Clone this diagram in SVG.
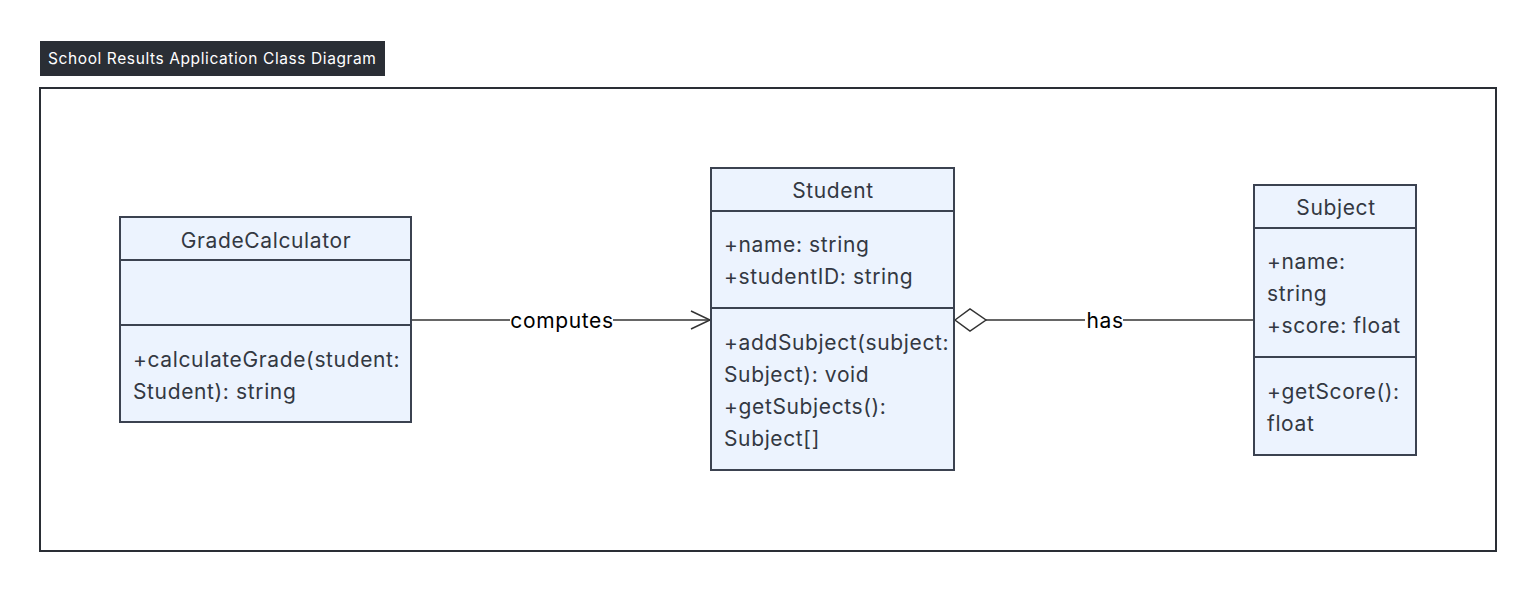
<svg xmlns="http://www.w3.org/2000/svg" width="1536" height="591" viewBox="0 0 1536 591">
<style>
.box{fill:#ECF3FE;stroke:#3B4250;stroke-width:2}
.div{stroke:#3B4250;stroke-width:2}
.t{font-family:Inter,"Liberation Sans",sans-serif;font-size:21px;fill:#333842;letter-spacing:0.03em}
.c{text-anchor:middle}
.edge{stroke:#333;stroke-width:1.5;fill:none}
.lbl{font-family:Inter,"Liberation Sans",sans-serif;font-size:21px;fill:#000;text-anchor:middle;letter-spacing:0.03em}
</style>
<rect width="1536" height="591" fill="#fff"/>
<g id="title">
<rect x="40" y="41" width="345" height="35" fill="#2A2E35"/>
<text x="48" y="64" font-family="Inter,'Liberation Sans',sans-serif" font-size="15.5" letter-spacing="0.6" fill="#fff">School Results Application Class Diagram</text>
</g>
<rect id="frame" x="40" y="88" width="1456" height="463" fill="none" stroke="#2A2E35" stroke-width="2"/>
<g id="connectors">
<line class="edge" x1="411" y1="320" x2="710" y2="320"/>
<polyline class="edge" points="691,311 710,320 691,329"/>
<rect x="510" y="308" width="103" height="26" fill="#fff"/>
<text class="lbl" x="562" y="328">computes</text>
<polygon points="955,320 970,309 986,320 970,331" fill="#fff" stroke="#333" stroke-width="1.5"/>
<line class="edge" x1="986" y1="320" x2="1254" y2="320"/>
<rect x="1085" y="308" width="38" height="26" fill="#fff"/>
<text class="lbl" x="1105" y="328">has</text>
</g>
<g id="GradeCalculator">
<rect class="box" x="120" y="217" width="291" height="205"/>
<line class="div" x1="120" y1="260" x2="411" y2="260"/>
<line class="div" x1="120" y1="325" x2="411" y2="325"/>
<text class="t c" x="266" y="248">GradeCalculator</text>
<text class="t" x="133" y="367">+calculateGrade(student:</text>
<text class="t" x="133" y="399">Student): string</text>
</g>
<g id="Student">
<rect class="box" x="711" y="168" width="243" height="302"/>
<line class="div" x1="711" y1="211" x2="954" y2="211"/>
<line class="div" x1="711" y1="308" x2="954" y2="308"/>
<text class="t c" x="833" y="198">Student</text>
<text class="t" x="724" y="252">+name: string</text>
<text class="t" x="724" y="284">+studentID: string</text>
<text class="t" x="724" y="350">+addSubject(subject:</text>
<text class="t" x="724" y="382">Subject): void</text>
<text class="t" x="724" y="414">+getSubjects():</text>
<text class="t" x="724" y="446">Subject[]</text>
</g>
<g id="Subject">
<rect class="box" x="1254" y="185" width="162" height="270"/>
<line class="div" x1="1254" y1="228" x2="1416" y2="228"/>
<line class="div" x1="1254" y1="357" x2="1416" y2="357"/>
<text class="t c" x="1336" y="215">Subject</text>
<text class="t" x="1267" y="269">+name:</text>
<text class="t" x="1267" y="301">string</text>
<text class="t" x="1267" y="333">+score: float</text>
<text class="t" x="1267" y="399">+getScore():</text>
<text class="t" x="1267" y="431">float</text>
</g>
</svg>
